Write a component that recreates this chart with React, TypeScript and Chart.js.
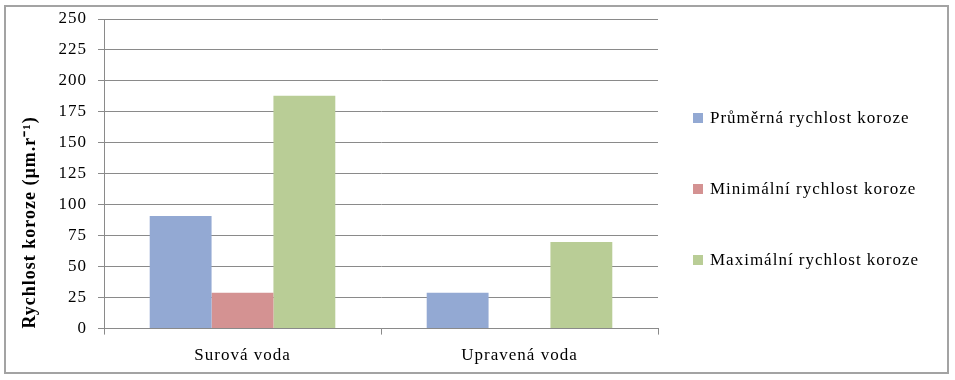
import React, { useEffect, useRef } from "react";
import { Chart, registerables } from "chart.js";

Chart.register(...registerables);

const categories = ["Surová voda", "Upravená voda"];
const seriesLabels = [
  "Průměrná rychlost koroze",
  "Minimální rychlost koroze",
  "Maximální rychlost koroze",
];
const prumerna = [91, 29];
const minimalni = [29, 0];
const maximalni = [188, 70];
const yMin = 0;
const yMax = 250;
const yStep = 25;
const yTitle = "Rychlost koroze (µm.r⁻¹)";

const colors = ["#93A9D3", "#D49292", "#B9CD96"];
const FONT = "'Liberation Serif', 'Times New Roman', serif";
const GRID = "#8a8a8a";

const spacingPlugin = {
  id: "spacing",
  beforeUpdate(chart: any) {
    chart.ctx.letterSpacing = "1px";
  },
};

const borderPlugin = {
  id: "frame",
  afterDraw(chart: any) {
    const ctx = chart.ctx;
    ctx.save();
    ctx.strokeStyle = "#a3a3a3";
    ctx.lineWidth = 2;
    ctx.strokeRect(5, 6, 943, 367);
    ctx.restore();
  },
};

const legendPlugin = {
  id: "sideLegend",
  afterDraw(chart: any) {
    const ctx = chart.ctx;
    ctx.save();
    ctx.letterSpacing = "1px";
    ctx.font = `17px ${FONT}`;
    ctx.textBaseline = "middle";
    ctx.textAlign = "left";
    chart.data.datasets.forEach((ds: any, i: number) => {
      const cy = 118 + i * 71;
      ctx.fillStyle = ds.backgroundColor;
      ctx.fillRect(693, cy - 5, 10, 10);
      ctx.fillStyle = "#000";
      ctx.fillText(ds.label, 710, cy + 1);
    });
    ctx.restore();
  },
};

export default function App() {
  const ref = useRef<HTMLCanvasElement>(null);
  useEffect(() => {
    document.body.style.margin = "0";
    const canvas = ref.current!;
    const chart = new Chart(canvas, {
      type: "bar",
      data: {
        labels: categories,
        datasets: [
          { label: seriesLabels[0], data: prumerna, backgroundColor: colors[0] },
          { label: seriesLabels[1], data: minimalni, backgroundColor: colors[1] },
          { label: seriesLabels[2], data: maximalni, backgroundColor: colors[2] },
        ],
      },
      options: {
        animation: false,
        responsive: false,
        devicePixelRatio: 1,
        layout: { padding: { left: 0, right: 297, top: 19, bottom: 3 } },
        datasets: {
          bar: { categoryPercentage: 0.67, barPercentage: 1 },
        },
        plugins: {
          legend: { display: false },
          tooltip: { enabled: false },
        },
        scales: {
          x: {
            grid: {
              display: true,
              offset: true,
              drawOnChartArea: false,
              drawTicks: true,
              tickLength: 6,
              color: GRID,
            },
            border: { display: true, color: GRID },
            ticks: {
              color: "#000",
              font: { family: FONT, size: 17 },
              padding: 11,
              maxRotation: 0,
            },
          },
          y: {
            min: yMin,
            max: yMax,
            afterFit(scale: any) {
              scale.width = 104;
              scale.paddingTop = 0;
              scale.paddingBottom = 0;
            },
            grid: {
              color: GRID,
              drawTicks: true,
              tickLength: 6,
            },
            border: { display: true, color: GRID },
            ticks: {
              stepSize: yStep,
              color: "#000",
              font: { family: FONT, size: 17 },
              padding: 11,
            },
            title: {
              display: true,
              text: yTitle,
              align: "start",
              color: "#000",
              font: { family: FONT, size: 18, weight: "bold" },
              padding: { top: 20, bottom: 0 },
            },
          },
        },
      },
      plugins: [spacingPlugin, borderPlugin, legendPlugin],
    });
    return () => chart.destroy();
  }, []);
  return (
    <div style={{ width: 955, height: 380 }}>
      <canvas ref={ref} width={955} height={380} style={{ width: 955, height: 380, display: "block" }} />
    </div>
  );
}
